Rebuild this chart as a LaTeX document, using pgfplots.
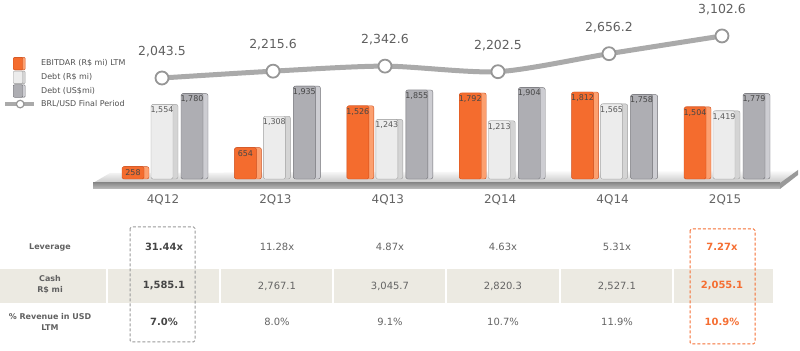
\documentclass[border=0pt]{standalone}
\usepackage{fontspec}
\setmainfont{DejaVu Sans}
\usepackage{pgfplots}
\pgfplotsset{compat=1.18}
\definecolor{orF}{RGB}{244,108,46}
\definecolor{orS}{RGB}{252,160,112}
\definecolor{orE}{RGB}{205,78,28}
\definecolor{ltF}{RGB}{236,236,236}
\definecolor{ltS}{RGB}{212,212,212}
\definecolor{ltE}{RGB}{160,160,160}
\definecolor{dkF}{RGB}{174,174,179}
\definecolor{dkS}{RGB}{205,205,210}
\definecolor{dkE}{RGB}{112,112,117}
\definecolor{lineC}{RGB}{170,170,170}
\definecolor{markC}{RGB}{150,150,150}
\definecolor{valC}{RGB}{95,95,95}
\definecolor{labC}{RGB}{100,100,100}
\definecolor{legC}{RGB}{80,80,80}
\definecolor{bandC}{RGB}{236,234,226}
\definecolor{tabC}{RGB}{100,100,100}
\definecolor{boldC}{RGB}{70,70,70}
\definecolor{tabO}{RGB}{245,110,50}
\newcommand{\fs}[1]{\fontsize{#1}{#1}\selectfont}
\begin{document}
\begin{tikzpicture}
\path[use as bounding box] (0,0) rectangle (800bp,351bp);
\begin{scope}[yshift=351bp, x=1bp, y=-1bp]
  % floor
  \shade[top color=white, bottom color=black!22] (93,183) -- (110,173) -- (798,170) -- (780,183) -- cycle;
  \shade[top color=black!45, bottom color=black!25] (93,183) -- (780,183) -- (780,189) -- (93,189) -- cycle;
  \fill[black!40] (780,183) -- (798,170) -- (798,175) -- (780,189) -- cycle;
  % table band
  \fill[bandC] (0,269) rectangle (773,303);
  \foreach \x in {107,220,333,446,560,673} \fill[white] (\x-1,268) rectangle (\x+1,304);
  % row labels
  \node[font=\fontsize{8}{11}\selectfont\bfseries, text=black!62, align=center] at (50,247) {Leverage};
  \node[font=\fontsize{8}{11}\selectfont\bfseries, text=black!62, align=center] at (50,285) {Cash\\R\$ mi};
  \node[font=\fontsize{8}{11}\selectfont\bfseries, text=black!62, align=center] at (50,321.5) {\% Revenue in USD\\LTM};
  % table values
  \begin{scope}[every node/.style={font=\fs{10}, text=tabC}]
    \node[font=\fs{10}\bfseries, text=boldC] at (164,247) {31.44x};
    \node at (277,247) {11.28x};
    \node at (390,247) {4.87x};
    \node at (503,247) {4.63x};
    \node at (617,247) {5.31x};
    \node[font=\fs{10}\bfseries, text=tabO] at (722,247) {7.27x};
    \node[font=\fs{10}\bfseries, text=boldC] at (164,286) {1,585.1};
    \node at (277,286) {2,767.1};
    \node at (390,286) {3,045.7};
    \node at (503,286) {2,820.3};
    \node at (617,286) {2,527.1};
    \node[font=\fs{10}\bfseries, text=tabO] at (722,286) {2,055.1};
    \node[font=\fs{10}\bfseries, text=boldC] at (164,322) {7.0\%};
    \node at (277,322) {8.0\%};
    \node at (390,322) {9.1\%};
    \node at (503,322) {10.7\%};
    \node at (617,322) {11.9\%};
    \node[font=\fs{10}\bfseries, text=tabO] at (722,322) {10.9\%};
  \end{scope}
  % dashed boxes
  \draw[black!40, line width=1bp, dash pattern=on 3bp off 2bp, rounded corners=1.5bp] (130,227) rectangle (195,342);
  \draw[tabO, line width=1bp, dash pattern=on 3bp off 2bp, rounded corners=1.5bp] (690,229) rectangle (755,344);
\end{scope}

% bars
\pgfplotstableread{
x ebit debtR debtU
0 258 1554 1780
1 654 1308 1935
2 1526 1243 1855
3 1792 1213 1904
4 1812 1565 1758
5 1504 1419 1779
}\bars
\begin{axis}[
  at={(0,0)}, anchor=south west,
  scale only axis, width=800bp, height=351bp,
  xmin=-1.45018, xmax=5.66726, ymin=-3583.3, ymax=3729.2,
  axis x line*=middle, axis y line=none,
  x axis line style={draw=none},
  xtick={0,1,2,3,4,5},
  xticklabels={4Q12,2Q13,4Q13,2Q14,4Q14,2Q15},
  major tick length=0pt,
  xticklabel style={font=\fs{12}, text=labC, yshift=-12bp},
  ybar,
  clip=false,
  /pgf/number format/1000 sep={,},
  /pgf/number format/assume math mode=true,
]
% side faces
\addplot[bar shift=-27bp, bar width=26bp, draw=orE, fill=orS, rounded corners=2bp] table[x=x,y=ebit] {\bars};
\addplot[bar shift=2bp, bar width=26bp, draw=ltE, fill=ltS, rounded corners=2bp] table[x=x,y=debtR] {\bars};
\addplot[bar shift=32bp, bar width=26bp, draw=dkE, fill=dkS, rounded corners=2bp] table[x=x,y=debtU] {\bars};
% front faces
\addplot[bar shift=-30bp, bar width=22bp, draw=orE, fill=orF, rounded corners=1.5bp,
  nodes near coords, every node near coord/.append style={font=\fs{8}, inner sep=1bp, yshift=-10.5bp, text=black!72}]
  table[x=x,y=ebit] {\bars};
\addplot[bar shift=-1bp, bar width=22bp, draw=ltE, fill=ltF, rounded corners=1.5bp,
  nodes near coords, every node near coord/.append style={font=\fs{8}, inner sep=1bp, yshift=-10.5bp, text=black!65}]
  table[x=x,y=debtR] {\bars};
\addplot[bar shift=29bp, bar width=22bp, draw=dkE, fill=dkF, rounded corners=1.5bp,
  nodes near coords, every node near coord/.append style={font=\fs{8}, inner sep=1bp, yshift=-10.5bp, text=black!72}]
  table[x=x,y=debtU] {\bars};
\end{axis}

% line + legend
\begin{axis}[
  at={(0,0)}, anchor=south west,
  scale only axis, width=800bp, height=351bp,
  xmin=-1.45018, xmax=5.66726, ymin=-4833.1, ymax=4008.2,
  hide axis, clip=false,
  legend style={at={(0.00375,0.8376)}, anchor=north west, draw=none, fill=none,
    font=\fs{8}, text=legC, inner sep=0pt, row sep=0.8bp, column sep=3bp},
  legend cell align=left,
  /pgf/number format/fixed, /pgf/number format/fixed zerofill,
  /pgf/number format/precision=1, /pgf/number format/1000 sep={,},
  /pgf/number format/assume math mode=true,
]
\addlegendimage{legend image code/.code={
  \fill[orS, draw=orE, rounded corners=1bp] (11bp,-6.5bp) rectangle (22bp,6bp);
  \fill[orF, draw=orE, rounded corners=1bp] (10bp,-6.5bp) rectangle (19.5bp,6bp);}}
\addlegendentry{EBITDAR (R\$ mi) LTM}
\addlegendimage{legend image code/.code={
  \fill[ltS, draw=ltE, rounded corners=1bp] (11bp,-6.5bp) rectangle (22bp,6bp);
  \fill[ltF, draw=ltE, rounded corners=1bp] (10bp,-6.5bp) rectangle (19.5bp,6bp);}}
\addlegendentry{Debt (R\$ mi)}
\addlegendimage{legend image code/.code={
  \fill[dkS, draw=dkE, rounded corners=1bp] (11bp,-6.5bp) rectangle (22bp,6bp);
  \fill[dkF, draw=dkE, rounded corners=1bp] (10bp,-6.5bp) rectangle (19.5bp,6bp);}}
\addlegendentry{Debt (US\$mi)}
\addlegendimage{legend image code/.code={
  \draw[lineC, line width=4bp] (2bp,0) -- (31bp,0);
  \draw[markC, fill=white, line width=1.2bp] (17bp,0) circle (3.8bp);}}
\addlegendentry{BRL/USD Final Period}
\addplot[lineC, line width=5bp, smooth, tension=0.45,
  mark=*, mark size=6.5bp, mark options={fill=white, draw=markC, line width=1.8bp},
  nodes near coords, point meta=y,
  every node near coord/.append style={font=\fs{12.5}, text=valC, yshift=17bp}]
  coordinates {(-0.009,2043.5) (0.979,2215.6) (1.975,2342.6) (2.98,2202.5) (3.968,2656.2) (4.973,3102.6)};
\end{axis}
\end{tikzpicture}
\end{document}
